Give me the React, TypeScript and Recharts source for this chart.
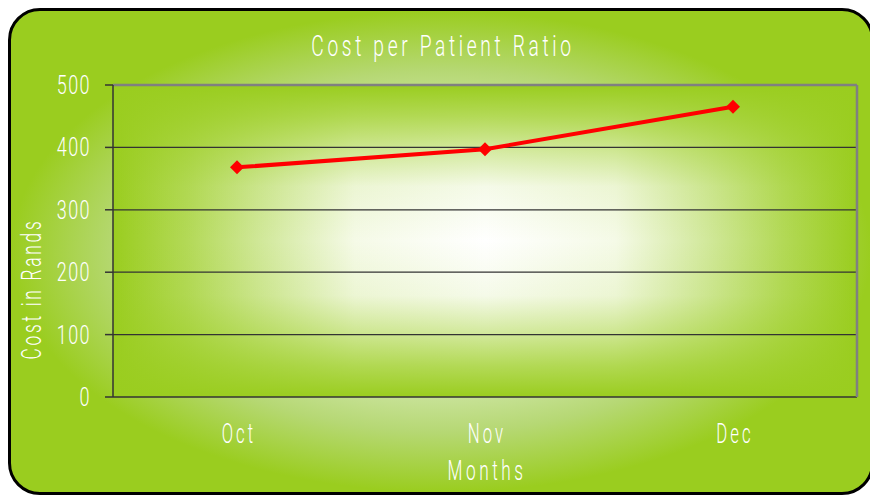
import { CartesianGrid, Line, LineChart, ReferenceLine, XAxis, YAxis } from "recharts";

const months = ["Oct", "Nov", "Dec"];
const costs = [368, 397, 465];
const yTicks = [0, 100, 200, 300, 400, 500];
const monthBounds = [0, 1, 2, 3];

const data = months.map((m, i) => ({ month: m, cost: costs[i], pos: i + 0.5 }));

const FONT = 'Roboto, "Liberation Sans", Arial, sans-serif';
const WEIGHT = 300;
const GREEN = "#9acd1f";

function YTick({ x, y, payload }: any) {
  return (
    <text
      transform={`translate(${x},${y}) scale(0.72,1)`}
      textAnchor="end"
      dy="0.36em"
      fontFamily={FONT}
      fontWeight={WEIGHT}
      fontSize={25}
      letterSpacing={2}
      fill="#fff"
    >
      {payload.value}
    </text>
  );
}

function XTick({ x, y, payload }: any) {
  return (
    <text
      transform={`translate(${x + 2},${y}) scale(0.62,1)`}
      textAnchor="middle"
      dy="0.71em"
      fontFamily={FONT}
      fontWeight={WEIGHT}
      fontSize={27}
      letterSpacing={5}
      fill="#fff"
    >
      {payload.value}
    </text>
  );
}

function Diamond({ cx, cy }: any) {
  if (cx == null || cy == null) return null;
  const r = 7;
  return (
    <polygon
      points={`${cx},${cy - r} ${cx + r},${cy} ${cx},${cy + r} ${cx - r},${cy}`}
      fill="#ff0000"
    />
  );
}

const label = {
  position: "absolute" as const,
  color: "#fff",
  fontFamily: FONT,
  fontWeight: WEIGHT,
  textAlign: "center" as const,
  whiteSpace: "nowrap" as const,
};

export default function App() {
  return (
    <div style={{ position: "absolute", left: 0, top: 0, width: 870, height: 496, overflow: "hidden" }}>
      <div
        style={{
          position: "absolute",
          left: 8,
          top: 8,
          width: 866,
          height: 487,
          boxSizing: "border-box",
          border: "3px solid #000",
          borderRadius: 32,
          background: `radial-gradient(ellipse closest-side at 50% 50%, #ffffff 0%, #d4e9b0 50%, #b6d874 75%, ${GREEN} 100%)`,
        }}
      />
      <div
        style={{
          ...label,
          left: 0,
          width: 886,
          top: 31,
          fontSize: 30,
          lineHeight: "30px",
          letterSpacing: 5.7,
          transform: "scaleX(0.64)",
        }}
      >
        Cost per Patient Ratio
      </div>
      <div
        style={{
          ...label,
          left: 0,
          width: 974,
          top: 458,
          fontSize: 27,
          lineHeight: "27px",
          letterSpacing: 5.5,
          transform: "scaleX(0.64)",
        }}
      >
        Months
      </div>
      <div
        style={{
          ...label,
          left: -68,
          width: 200,
          top: 282,
          fontSize: 27,
          lineHeight: "27px",
          letterSpacing: 4.3,
          transform: "rotate(-90deg) scaleX(0.64)",
        }}
      >
        Cost in Rands
      </div>
      <div style={{ position: "absolute", left: 0, top: 0 }}>
        <LineChart width={870} height={496} data={data} margin={{ top: 85, right: 13, left: 53, bottom: 59 }}>
          <defs>
            <linearGradient id="hGrad" x1="0" y1="0" x2="1" y2="0">
              <stop offset="0" stopColor={GREEN} />
              <stop offset="0.1" stopColor="#b3d957" />
              <stop offset="0.2" stopColor="#d1e89a" />
              <stop offset="0.325" stopColor="#f5fae7" />
              <stop offset="0.5" stopColor="#ffffff" />
              <stop offset="0.675" stopColor="#f5fae7" />
              <stop offset="0.8" stopColor="#d1e89a" />
              <stop offset="0.9" stopColor="#b3d957" />
              <stop offset="1" stopColor={GREEN} />
            </linearGradient>
            <linearGradient id="vGrad" x1="0" y1="0" x2="0" y2="1">
              <stop offset="0" stopColor={GREEN} stopOpacity={1} />
              <stop offset="0.1" stopColor={GREEN} stopOpacity={0.75} />
              <stop offset="0.2" stopColor={GREEN} stopOpacity={0.45} />
              <stop offset="0.325" stopColor={GREEN} stopOpacity={0.1} />
              <stop offset="0.5" stopColor={GREEN} stopOpacity={0} />
              <stop offset="0.675" stopColor={GREEN} stopOpacity={0.1} />
              <stop offset="0.8" stopColor={GREEN} stopOpacity={0.45} />
              <stop offset="0.9" stopColor={GREEN} stopOpacity={0.75} />
              <stop offset="1" stopColor={GREEN} stopOpacity={1} />
            </linearGradient>
            <pattern
              id="plotBg"
              patternUnits="objectBoundingBox"
              patternContentUnits="objectBoundingBox"
              width="1"
              height="1"
            >
              <rect width="1" height="1" fill="url(#hGrad)" />
              <rect width="1" height="1" fill="url(#vGrad)" />
            </pattern>
          </defs>
          <CartesianGrid vertical={false} stroke="#333" strokeWidth={1.3} fill="url(#plotBg)" fillOpacity={1} />
          <XAxis
            xAxisId="num"
            type="number"
            dataKey="pos"
            domain={[0, 3]}
            ticks={monthBounds}
            tick={false}
            tickSize={8}
            height={0}
            stroke="#333"
            strokeWidth={1.5}
          />
          <XAxis
            xAxisId="cat"
            dataKey="month"
            scale="band"
            axisLine={false}
            tickLine={false}
            tickSize={0}
            tickMargin={27}
            height={40}
            tick={<XTick />}
          />
          <YAxis
            domain={[0, 500]}
            ticks={yTicks}
            width={60}
            tickSize={8}
            tickMargin={14}
            stroke="#333"
            strokeWidth={1.5}
            tick={<YTick />}
          />
          <ReferenceLine y={500} xAxisId="cat" stroke="#808080" strokeWidth={2.5} />
          <ReferenceLine x={3} xAxisId="num" stroke="#808080" strokeWidth={2.5} />
          <Line
            xAxisId="cat"
            dataKey="cost"
            stroke="#ff0000"
            strokeWidth={4}
            dot={<Diamond />}
            activeDot={false}
            isAnimationActive={false}
          />
        </LineChart>
      </div>
    </div>
  );
}
